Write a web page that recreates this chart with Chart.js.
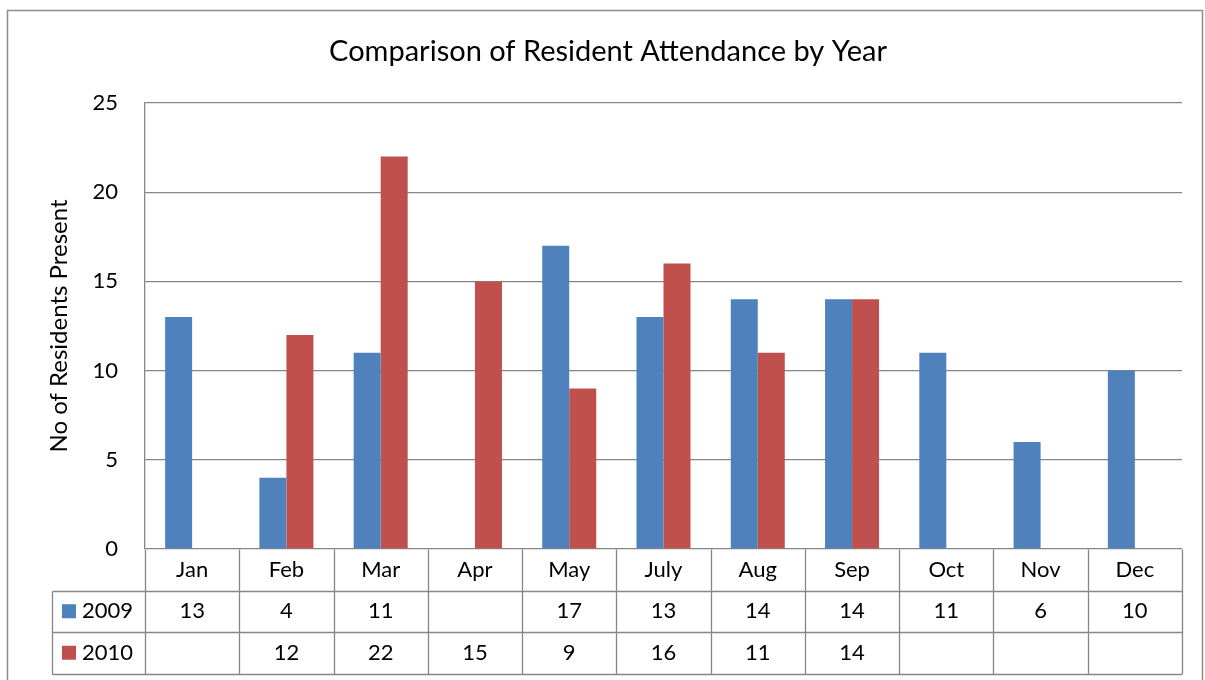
<!DOCTYPE html>
<html>
<head>
<meta charset="utf-8">
<script src="https://cdn.jsdelivr.net/npm/chart.js@4.4.1/dist/chart.umd.min.js"></script>
<style>
  html, body { margin: 0; padding: 0; background: #fff; }
  #wrap { width: 1205px; height: 680px; }
</style>
</head>
<body>
<div id="wrap"><canvas id="attendanceChart" width="1205" height="680"></canvas></div>
<script>
// dados do gráfico
const chartTitle = 'Comparison of Resident Attendance by Year';
const yAxisTitle = 'No of Residents Present';
const months = ['Jan', 'Feb', 'Mar', 'Apr', 'May', 'July', 'Aug', 'Sep', 'Oct', 'Nov', 'Dec'];
const seriesNames = ['2009', '2010'];
const att2009 = [13, 4, 11, null, 17, 13, 14, 14, 11, 6, 10];
const att2010 = [null, 12, 22, 15, 9, 16, 11, 14, null, null, null];
const yTicks = [0, 5, 10, 15, 20, 25];

const colors = ['#4F81BD', '#C0504D'];
const lineGray = '#868686';
const fontFamily = 'Lato, "Open Sans", sans-serif';

// Tabela de dados + título + moldura desenhados depois do gráfico
const tablePlugin = {
    id: 'dataTable',
    afterDraw(chart) {
        const ctx = chart.ctx;
        const x = chart.scales.x;
        const area = chart.chartArea;
        const rowH = 41.5;
        const top = area.bottom;
        const legendLeft = 52.5;
        const step = x.getPixelForValue(1) - x.getPixelForValue(0);
        const left = x.getPixelForValue(0) - step / 2;
        const right = x.getPixelForValue(months.length - 1) + step / 2;

        ctx.save();
        ctx.strokeStyle = lineGray;
        ctx.lineWidth = 1.3;

        // linhas horizontais
        const r1 = Math.round(top + rowH) + 0.5;
        const r2 = Math.round(top + rowH * 2) + 0.5;
        const r3 = Math.round(top + rowH * 3) + 0.5;
        ctx.beginPath();
        ctx.moveTo(legendLeft, r1); ctx.lineTo(right, r1);
        ctx.moveTo(legendLeft, r2); ctx.lineTo(right, r2);
        ctx.moveTo(legendLeft, r3); ctx.lineTo(right, r3);
        // linhas verticais
        for (let i = 0; i <= months.length; i++) {
            const px = Math.round(left + i * step) + 0.5;
            ctx.moveTo(px, Math.round(top) + 0.5);
            ctx.lineTo(px, r3);
        }
        ctx.moveTo(legendLeft, r1); ctx.lineTo(legendLeft, r3);
        ctx.stroke();

        // textos
        ctx.fillStyle = '#000';
        ctx.font = '22px ' + fontFamily;
        ctx.textAlign = 'center';
        ctx.textBaseline = 'middle';
        const rows = [att2009, att2010];
        months.forEach((m, i) => {
            const cx = x.getPixelForValue(i);
            ctx.fillText(m, cx, top + rowH / 2);
            rows.forEach((r, j) => {
                if (r[i] !== null) ctx.fillText(String(r[i]), cx, top + rowH * (j + 1.5));
            });
        });

        // legenda
        ctx.textAlign = 'left';
        seriesNames.forEach((name, j) => {
            const cy = top + rowH * (j + 1.5);
            ctx.fillStyle = colors[j];
            ctx.fillRect(62, cy - 7, 14, 14);
            ctx.fillStyle = '#000';
            ctx.fillText(name, 82, cy);
        });

        // título
        ctx.font = '29px ' + fontFamily;
        ctx.textAlign = 'center';
        ctx.fillText(chartTitle, 608, 52);

        // moldura externa
        ctx.strokeStyle = '#8c8c8c';
        ctx.lineWidth = 1.5;
        ctx.beginPath();
        ctx.moveTo(7.5, 690);
        ctx.lineTo(7.5, 10.5);
        ctx.lineTo(1202.5, 10.5);
        ctx.lineTo(1202.5, 690);
        ctx.stroke();
        ctx.restore();
    }
};

function renderChart() {
    const ctx = document.getElementById('attendanceChart').getContext('2d');
    new Chart(ctx, {
        type: 'bar',
        data: {
            labels: months,
            datasets: [
                { label: seriesNames[0], data: att2009, backgroundColor: colors[0] },
                { label: seriesNames[1], data: att2010, backgroundColor: colors[1] }
            ]
        },
        options: {
            responsive: false,
            animation: false,
            layout: { padding: { left: 0, right: 23, top: 103, bottom: 131 } },
            datasets: {
                bar: { categoryPercentage: 0.573, barPercentage: 1, borderWidth: 0 }
            },
            scales: {
                x: { display: false },
                y: {
                    min: 0,
                    max: 25,
                    afterBuildTicks: axis => { axis.ticks = yTicks.map(v => ({ value: v })); },
                    afterFit: axis => { axis.width = 145; },
                    grid: { color: lineGray, lineWidth: 1.3, drawTicks: false },
                    border: { color: lineGray, width: 1.3 },
                    ticks: {
                        padding: 27,
                        color: '#000',
                        font: { family: fontFamily, size: 22 }
                    },
                    title: {
                        display: true,
                        text: yAxisTitle,
                        color: '#000',
                        font: { family: fontFamily, size: 24 },
                        padding: { top: 45, bottom: 0 }
                    }
                }
            },
            plugins: {
                legend: { display: false },
                tooltip: { enabled: false }
            }
        },
        plugins: [tablePlugin]
    });
}

window.onload = renderChart;
</script>
</body>
</html>
